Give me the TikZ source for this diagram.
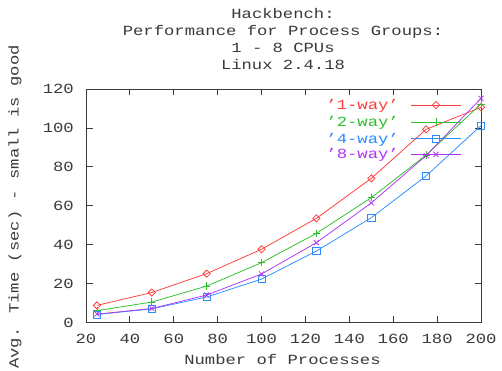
\documentclass[tikz,border=0pt]{standalone}
\usepackage{fontspec}
\setmainfont{Liberation Mono}[FakeStretch=1.23]
\usetikzlibrary{plotmarks}
\definecolor{gpred}{HTML}{FF3C3C}
\definecolor{gpgreen}{HTML}{2CC02C}
\definecolor{gpblue}{HTML}{2A8CFF}
\definecolor{gppurple}{HTML}{B034F4}
\definecolor{gptext}{HTML}{3A3A3A}
\begin{document}
\begin{tikzpicture}[x=1pt,y=1pt,
  font=\fontsize{14}{16}\selectfont,
  txt/.style={text=gptext, inner sep=0pt},
  axisline/.style={draw=gptext, line width=0.8pt},
  series/.style={line width=0.75pt, mark size=3.6pt, mark options={solid, line width=0.75pt}},
  dmd/.style={mark=diamond, mark options={solid, line width=0.75pt, xscale=1.33}}]
\useasboundingbox (0,0) rectangle (502,371);
\fill[white] (0,0) rectangle (502,371);
% titles
\node[txt, anchor=base] (t1) at (283,352) {Hackbench:};
\node[txt, anchor=base] (t2) at (283,335) {Performance for Process Groups:};
\node[txt, anchor=base] (t3) at (283,318) {1 - 8 CPUs};
\node[txt, anchor=base] (t4) at (283,301.5) {Linux 2.4.18};
% axis labels
\node[txt, anchor=base] (xlab) at (282.5,6) {Number of Processes};
\node[txt, anchor=base, rotate=90] (ylab) at (18.5,164) {Avg. Time (sec) - small is good};
% frame
\draw[axisline] (86,48.3) rectangle (481,282);
\begin{scope}[x=2.19444pt, y=1.9475pt, shift={(42.111pt,48.3pt)}]
  \foreach \X in {40,60,...,180} {
    \draw[axisline] (\X,0) -- ++(0,6.5pt);
    \draw[axisline] (\X,120) -- ++(0,-6.5pt);
  }
  \foreach \X in {20,40,...,200} {
    \node[txt, anchor=base] (xt\X) at ([yshift=-21.3pt]\X,0) {\X};
  }
  \foreach \Y in {20,40,...,100} {
    \draw[axisline] (20,\Y) -- ++(6.5pt,0);
    \draw[axisline] (200,\Y) -- ++(-6.5pt,0);
  }
  \foreach \Y in {0,20,...,120} {
    \node[txt, anchor=base east] (yt\Y) at ([xshift=-12pt,yshift=-4.5pt]20,\Y) {\Y};
  }
  % data
  \draw[series, gpred] plot[dmd] coordinates {(25,8.9) (50,15.5) (75,25.2) (100,37.7) (125,53.6) (150,74.1) (175,99.3) (200,110.6)};
  \draw[series, gpgreen] plot[mark=+] coordinates {(25,6.2) (50,10.6) (75,18.8) (100,30.8) (125,45.9) (150,64.2) (175,86.1) (200,112.3)};
  \draw[series, gpblue] plot[mark=square] coordinates {(25,4.2) (50,7.1) (75,13.2) (100,22.4) (125,36.8) (150,53.9) (175,75.4) (200,101.2)};
  \draw[series, gppurple] plot[mark=x] coordinates {(25,4.4) (50,7.3) (75,14.2) (100,25.0) (125,41.1) (150,61.5) (175,85.8) (200,115.2)};
\end{scope}
% legend
\node[txt, text=gpred, anchor=base east] (l1) at (399,261.5) {'1-way'};
\node[txt, text=gpgreen, anchor=base east] (l2) at (399,244.5) {'2-way'};
\node[txt, text=gpblue, anchor=base east] (l3) at (399,227.8) {'4-way'};
\node[txt, text=gppurple, anchor=base east] (l4) at (399,212.2) {'8-way'};
\draw[series, gpred] (411,266) -- (461,266);
\draw[series, gpred] plot[dmd] coordinates {(436,266)};
\draw[series, gpgreen] (411,249) -- (461,249);
\draw[series, gpgreen] plot[mark=+] coordinates {(436,249)};
\draw[series, gpblue] (411,232.3) -- (461,232.3);
\draw[series, gpblue] plot[mark=square] coordinates {(436,232.3)};
\draw[series, gppurple] (411,216.7) -- (461,216.7);
\draw[series, gppurple] plot[mark=x] coordinates {(436,216.7)};
\end{tikzpicture}
\end{document}
